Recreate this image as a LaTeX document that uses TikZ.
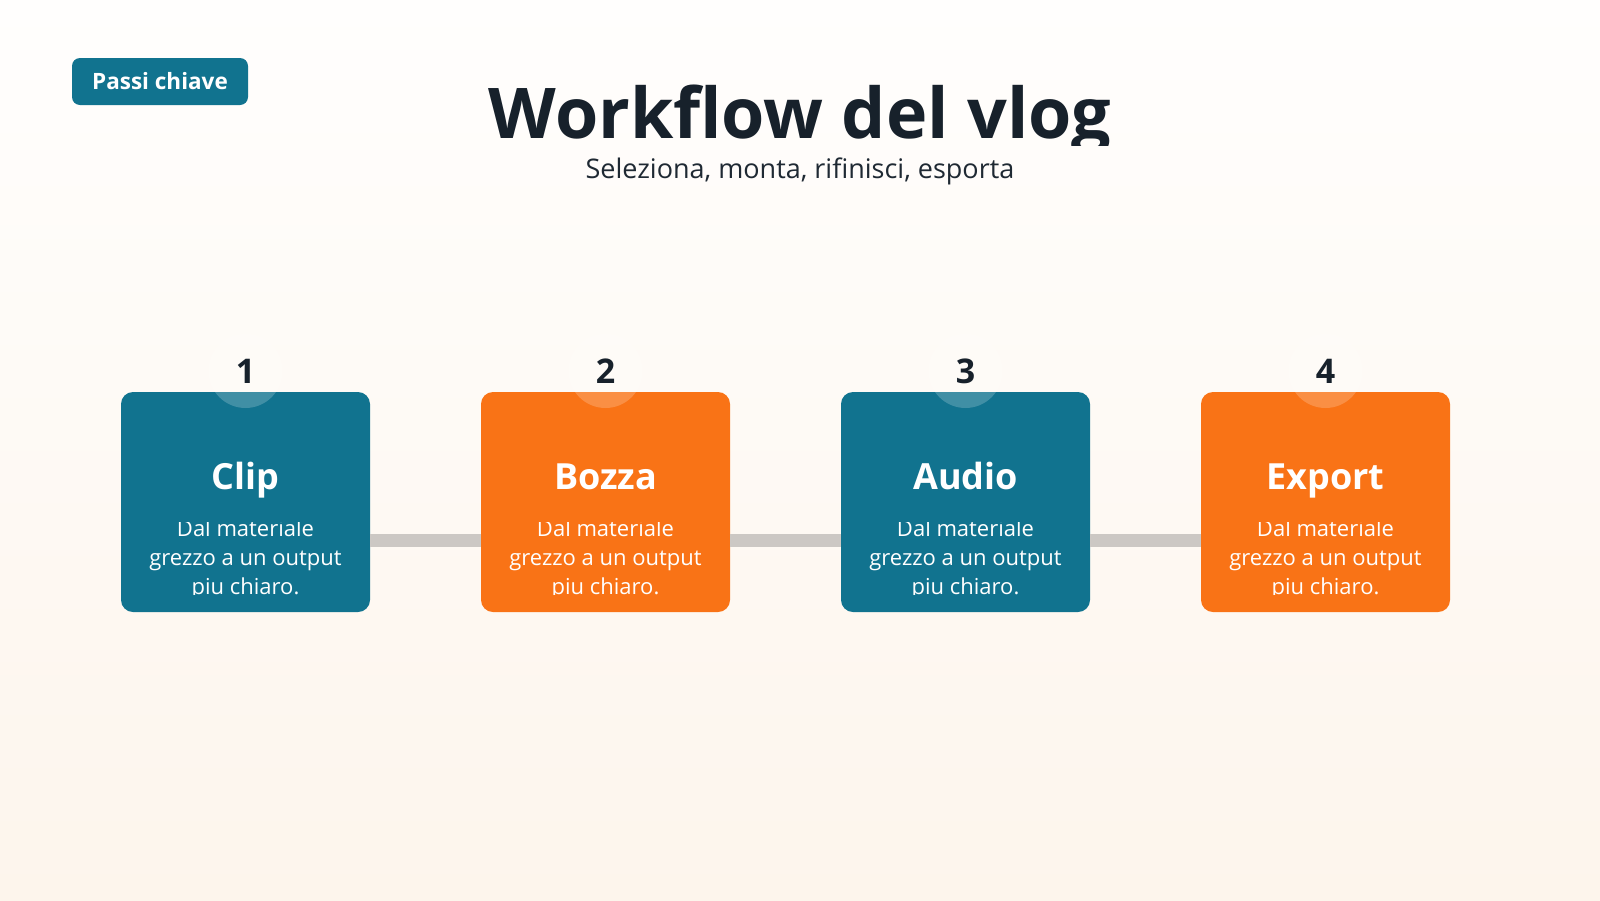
\documentclass[tikz,border=0pt]{standalone}
\usepackage{fontspec}
\setmainfont{Open Sans}
\definecolor{teal}{HTML}{11738F}
\definecolor{orng}{HTML}{F97316}
\definecolor{ink}{HTML}{17212B}
\definecolor{subink}{HTML}{1F2933}
\definecolor{connc}{HTML}{CCC8C4}
\definecolor{bgtop}{HTML}{FFFEFD}
\definecolor{bgbot}{HTML}{FDF5EC}
\tikzset{
  badge/.style={fill=teal, rounded corners=8pt, minimum width=176pt, minimum height=47pt, inner sep=0pt, text=white, font=\bfseries\fontsize{22.5}{26}\selectfont},
  card/.style={rounded corners=12pt, minimum width=249pt, minimum height=220pt, inner sep=0pt},
  disc/.style={circle, fill=white, fill opacity=0.2, minimum size=74pt, inner sep=0pt},
  num/.style={text=ink, font=\bfseries\fontsize{34}{40}\selectfont, inner sep=0pt},
  cardtitle/.style={text=white, font=\bfseries\fontsize{36}{40}\selectfont, inner sep=0pt, anchor=base},
  desc/.style={text=white, font=\fontsize{22}{29}\selectfont, inner sep=0pt, anchor=base},
  conn/.style={draw=connc, line width=13pt}
}
\begin{document}
\begin{tikzpicture}[x=1pt,y=-1pt]
\useasboundingbox (0,0) rectangle (1600,900);
\fill[top color=bgtop, bottom color=bgbot] (0,0) rectangle (1600,900);
\node[badge] (badge) at (160,81.5) {Passi chiave};
\begin{scope}
\clip (0,0) rectangle (1600,145);
\node[text=ink, font=\bfseries\fontsize{70}{80}\selectfont, anchor=base, inner sep=0pt] (title) at (800,138) {Workflow del vlog};
\end{scope}
\node[text=subink, font=\fontsize{27}{32}\selectfont, anchor=base, inner sep=0pt] (subtitle) at (800,178) {Seleziona, monta, rifinisci, esporta};
\foreach \i/\t/\c in {1/Clip/teal, 2/Bozza/orng, 3/Audio/teal, 4/Export/orng}{
  \pgfmathsetmacro{\cx}{245.5+360*(\i-1)}
  \node[card, fill=\c] (c\i) at (\cx,502) {};
  \node[disc] (d\i) at (\cx,371) {};
  \node[num] (n\i) at (d\i) {\i};
  \node[cardtitle] (t\i) at (\cx,489) {\t};
  \begin{scope}
    \clip (\cx-124,522) rectangle (\cx+124,594);
    \node[desc] (a\i) at (\cx,536) {Dal materiale};
    \node[desc] (b\i) at (\cx,565) {grezzo a un output};
    \node[desc] (e\i) at (\cx,594) {piu chiaro.};
  \end{scope}
}
\foreach \i/\j in {1/2,2/3,3/4}{
  \draw[conn] ([yshift=-38pt]c\i.east) -- ([yshift=-38pt]c\j.west);
}
\end{tikzpicture}
\end{document}
